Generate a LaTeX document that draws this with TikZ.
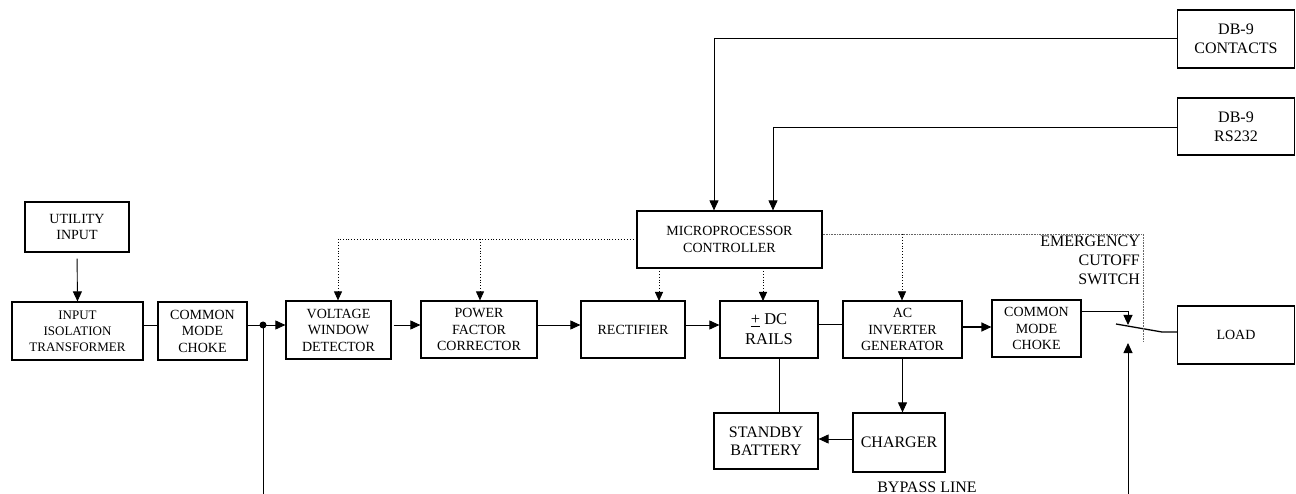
\documentclass[tikz,border=0pt]{standalone}
\usepackage{fontspec}
\setmainfont{Liberation Serif}
\usetikzlibrary{arrows.meta}
\begin{document}
\begin{tikzpicture}[x=1pt,y=-1pt,
  box/.style={draw, line width=1.2pt, inner sep=0pt, align=center, font=\fontsize{14}{16.5}\selectfont},
  bigtxt/.style={font=\fontsize{16}{19}\selectfont},
  conn/.style={line width=0.9pt},
  arr/.style={conn, -{Triangle[length=10pt,width=9pt]}},
  dots/.style={line width=0.9pt, dotted, -{Triangle[length=9pt,width=8pt]}},
  gdots/.style={line width=0.6pt, densely dotted, draw=black!60}]
\useasboundingbox (0,0) rectangle (1296,494);
% boxes
\node[box, minimum width=104pt, minimum height=50pt] (util) at (77,227) {UTILITY\\INPUT};
\node[box, minimum width=131pt, minimum height=58pt, font=\fontsize{13}{16}\selectfont] (iit) at (77.5,331) {INPUT\\ISOLATION\\TRANSFORMER};
\node[box, minimum width=89pt, minimum height=58pt] (cmc1) at (202.5,331) {COMMON\\MODE\\CHOKE};
\node[box, minimum width=105pt, minimum height=58pt] (vwd) at (338.5,330) {VOLTAGE\\WINDOW\\DETECTOR};
\node[box, minimum width=116pt, minimum height=57pt] (pfc) at (479,329.5) {POWER\\FACTOR\\CORRECTOR};
\node[box, minimum width=104pt, minimum height=57pt] (rect) at (633,329.5) {RECTIFIER};
\node[box, minimum width=98pt, minimum height=57pt, font=\fontsize{16.5}{20}\selectfont] (dc) at (769,329.5) {\underline{+} DC\\RAILS};
\node[box, minimum width=119pt, minimum height=57pt] (acinv) at (902.5,329.5) {AC\\INVERTER\\GENERATOR};
\node[box, minimum width=89pt, minimum height=57pt] (cmc2) at (1036.5,328.5) {COMMON\\MODE\\CHOKE};
\node[box, minimum width=117pt, minimum height=58pt] (load) at (1236,335) {LOAD};
\node[box, minimum width=185pt, minimum height=57pt] (micro) at (729.5,239.5) {MICROPROCESSOR\\CONTROLLER};
\node[box, minimum width=104pt, minimum height=56pt, font=\fontsize{16}{18.5}\selectfont] (batt) at (766,441) {STANDBY\\BATTERY};
\node[box, minimum width=92pt, minimum height=59pt, font=\fontsize{16}{18.5}\selectfont] (chg) at (899,442.5) {CHARGER};
\node[box, minimum width=117pt, minimum height=58pt, font=\fontsize{16}{19}\selectfont] (db1) at (1236,39) {DB-9\\CONTACTS};
\node[box, minimum width=117pt, minimum height=57pt, font=\fontsize{16}{19}\selectfont] (db2) at (1236,126.5) {DB-9\\RS232};
% labels
\node[bigtxt, align=right, anchor=north east, inner sep=0pt] (ecs) at (1140,236) {EMERGENCY\\CUTOFF\\SWITCH};
\node[bigtxt, inner sep=0pt] (bypass) at (927,487) {BYPASS LINE};
% coordinates
\coordinate (dot) at (263,325);
\coordinate (bypbot) at (263,494);
\coordinate (swtop) at (1128,311);
\coordinate (swtip) at (1128,325);
\coordinate (lev1) at (1116,324);
\coordinate (lev2) at (1162,332);
\coordinate (bybot) at (1128,494);
\coordinate (bytip) at (1128,343);
\coordinate (c1) at (714,38);
\coordinate (c2) at (773,127);
\coordinate (dl) at (338,239);
\coordinate (dp) at (480,239);
\coordinate (dr) at (1143,234);
\coordinate (dra) at (902,234);
\coordinate (drb) at (1143,342);
% main connectors
\draw[arr, shorten <=6pt] (util.south) -- (iit.north);
\draw[conn] ([yshift=6pt]iit.east) -- ([yshift=6pt]cmc1.west);
\draw[conn] ([yshift=6pt]cmc1.east) -- (dot);
\fill (dot) circle (3.5pt);
\draw[arr] (dot) -- ([yshift=5pt]vwd.west);
\draw[conn] (dot) -- (bypbot);
\draw[arr, shorten <=2pt] ([yshift=5pt]vwd.east) -- ([yshift=4.5pt]pfc.west);
\draw[arr] ([yshift=4.5pt]pfc.east) -- ([yshift=4.5pt]rect.west);
\draw[arr] ([yshift=4.5pt]rect.east) -- ([yshift=4.5pt]dc.west);
\draw[conn] ([yshift=5.5pt]dc.east) -- ([yshift=5.5pt]acinv.west);
\draw[arr, line width=1.3pt] ([yshift=2.5pt]acinv.east) -- ([yshift=1.5pt]cmc2.west);
\draw[conn] ([yshift=17.5pt]cmc2.east) -| (swtop) ;
\draw[arr] (swtop) -- (swtip);
\draw[line width=1.3pt] (lev1) -- (lev2) -- (lev2 -| load.west);
\draw[arr] (bybot) -- (bytip);
\draw[conn] ([xshift=10pt]dc.south) -- ([xshift=10pt]dc.south |- batt.north);
\draw[arr] (acinv.south) -- (acinv.south |- chg.north);
\draw[arr] ([yshift=3.5pt]chg.west) -- ([yshift=3.5pt]chg.west -| batt.east);
% serial links
\draw[conn] (db1.west |- c1) -- (c1);
\draw[arr] (c1) -- (c1 |- micro.north);
\draw[conn] (db2.west |- c2) -- (c2);
\draw[arr] (c2) -- (c2 |- micro.north);
% dotted control lines
\draw[line width=0.9pt, dotted] (micro.west |- dl) -- (dl);
\draw[dots] (dl) -- (dl |- vwd.north);
\draw[dots] (dp) -- (dp |- pfc.north);
\draw[dots] (659,268) -- (659,301);
\draw[dots] (763,268) -- (763,301);
\draw[gdots] (micro.east |- dr) -- (dr) -- (drb);
\draw[dots, line width=0.6pt] (dra) -- (dra |- acinv.north);
\end{tikzpicture}
\end{document}
